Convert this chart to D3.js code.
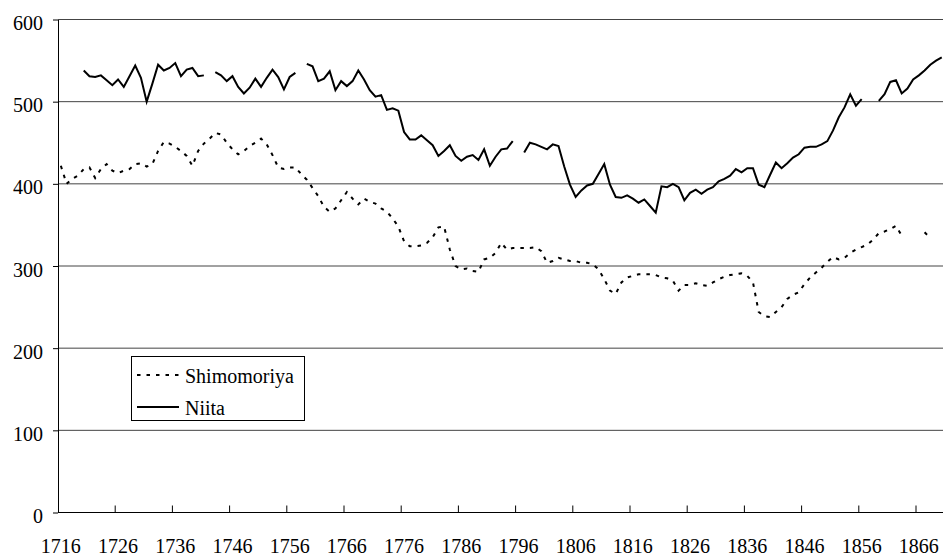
<!DOCTYPE html>
<html>
<head>
<meta charset="utf-8">
<script src="https://cdn.jsdelivr.net/npm/d3@7"></script>
<style>
  body { margin: 0; background: #fff; }
  svg text { font-family: "Liberation Serif", "Times New Roman", serif; fill: #000; }
</style>
</head>
<body>
<div id="viz"></div>
<script>
// years on the category axis, one band per year
const years = d3.range(1716, 1871);
const tickYears = d3.range(1716, 1867, 10);
const yTicks = [0, 100, 200, 300, 400, 500, 600];

// Shimomoriya, 1716-1870 (null = no record)
const shimomoriya = [
  422, 400, 406, 410, 418, 420, 407, 418, 424, 416,   // 1716-1725
  413, 416, 418, 424, 425, 421, 424, 440, 451, 449,   // 1726-1735
  445, 440, 434, 422, 440, 449, 455, 462, 460, 450,   // 1736-1745
  442, 436, 440, 446, 450, 455, 448, 435, 420, 418,   // 1746-1755
  420, 420, 412, 405, 395, 385, 372, 366, 370, 380,   // 1756-1765
  390, 382, 375, 382, 378, 376, 370, 366, 358, 348,   // 1766-1775
  330, 324, 324, 325, 328, 335, 347, 348, 320, 300,   // 1776-1785
  296, 297, 294, 293, 308, 310, 316, 328, 320, 322,   // 1786-1795
  322, 322, 322, 323, 318, 304, 306, 310, 308, 306,   // 1796-1805
  306, 304, 304, 302, 296, 284, 270, 266, 280, 286,   // 1806-1815
  288, 290, 290, 290, 289, 286, 285, 282, 270, 277,   // 1816-1825
  277, 279, 277, 276, 280, 284, 287, 289, 290, 291,   // 1826-1835
  288, 280, 244, 239, 238, 244, 250, 260, 265, 268,   // 1836-1845
  278, 286, 292, 298, 305, 311, 308, 310, 316, 320,   // 1846-1855
  323, 326, 332, 340, 342, 345, 349, 337, null, null, // 1856-1865
  null, 341, 334, null, null                          // 1866-1870
];

// Niita, 1716-1870 (null = no record)
const niita = [
  null, null, null, null, 538, 531, 530, 532, 526, 520,   // 1716-1725
  527, 518, 531, 544, 529, 500, 522, 545, 538, 541,       // 1726-1735
  547, 531, 539, 541, 531, 532, null, 536, 532, 525,      // 1736-1745
  531, 518, 510, 517, 528, 518, 529, 539, 530, 515,       // 1746-1755
  530, 535, null, 546, 543, 525, 528, 537, 514, 525,      // 1756-1765
  519, 525, 538, 527, 514, 506, 508, 490, 492, 489,       // 1766-1775
  463, 454, 454, 459, 453, 447, 434, 440, 447, 434,       // 1776-1785
  428, 433, 435, 429, 442, 422, 433, 442, 443, 452,       // 1786-1795
  null, 438, 450, 448, 445, 442, 448, 446, 421, 399,      // 1796-1805
  384, 392, 398, 400, 412, 424, 399, 384, 383, 386,       // 1806-1815
  382, 377, 381, 373, 365, 397, 396, 400, 396, 380,       // 1816-1825
  389, 393, 388, 393, 396, 403, 406, 410, 418, 414,       // 1826-1835
  419, 419, 399, 396, 411, 426, 419, 425, 432, 436,       // 1836-1845
  444, 445, 445, 448, 452, 465, 481, 493, 509, 495,       // 1846-1855
  503, null, null, 501, 509, 524, 526, 510, 516, 527,     // 1856-1865
  532, 538, 545, 550, 554                                 // 1866-1870
];

const seriesNames = ["Shimomoriya", "Niita"];

const W = 943, H = 557;
const padL = 58, padT = 19.5, axisY = 512.5, step = 5.72;
const FONT = '"Liberation Serif", "Times New Roman", serif';

const svg = d3.select("#viz").append("svg")
  .attr("width", W).attr("height", H);

const x = d3.scaleBand().domain(years).range([padL, padL + years.length * step]).padding(0);
const y = d3.scaleLinear().domain([0, 600]).range([axisY, padT]);
const cx = d => x(d) + x.bandwidth() / 2;

// gridlines
svg.append("g").selectAll("line")
  .data(yTicks.filter(d => d > 0))
  .join("line")
  .attr("x1", padL).attr("x2", W)
  .attr("y1", d => y(d)).attr("y2", d => y(d))
  .attr("stroke", "#444").attr("stroke-width", 1);

// y axis
const yAxis = svg.append("g")
  .attr("transform", `translate(${padL},0)`)
  .call(d3.axisLeft(y).tickValues(yTicks).tickSize(5).tickSizeOuter(0).tickPadding(10));
yAxis.attr("font-family", FONT);
yAxis.select(".domain").attr("stroke", "#000");
yAxis.selectAll(".tick line").attr("stroke", "#000");
yAxis.selectAll("text").attr("font-size", 20).attr("dy", "0.5em");

// x axis line + ticks at category boundaries
svg.append("line")
  .attr("x1", padL).attr("x2", W)
  .attr("y1", axisY).attr("y2", axisY)
  .attr("stroke", "#000");
svg.append("g").selectAll("line")
  .data(tickYears.slice(1))
  .join("line")
  .attr("x1", d => x(d)).attr("x2", d => x(d))
  .attr("y1", axisY).attr("y2", axisY - 7)
  .attr("stroke", "#000");
svg.append("g").selectAll("text")
  .data(tickYears)
  .join("text")
  .attr("x", d => cx(d))
  .attr("y", 553)
  .attr("text-anchor", "middle")
  .attr("font-family", FONT)
  .attr("font-size", 20)
  .text(d => d);

// lines
const line = d3.line()
  .defined(d => d[1] != null)
  .x(d => cx(d[0]))
  .y(d => y(d[1]));

svg.append("path")
  .datum(years.map((yr, i) => [yr, shimomoriya[i]]))
  .attr("d", line)
  .attr("fill", "none")
  .attr("stroke", "#000")
  .attr("stroke-width", 2)
  .attr("stroke-dasharray", "3.5,6");

svg.append("path")
  .datum(years.map((yr, i) => [yr, niita[i]]))
  .attr("d", line)
  .attr("fill", "none")
  .attr("stroke", "#000")
  .attr("stroke-width", 2)
  .attr("stroke-linejoin", "miter");

// legend
const lg = svg.append("g");
lg.append("rect")
  .attr("x", 131.5).attr("y", 356.5)
  .attr("width", 173).attr("height", 64)
  .attr("fill", "#fff").attr("stroke", "#000");
seriesNames.forEach((name, i) => {
  const ly = 375 + i * 32;
  lg.append("line")
    .attr("x1", 137).attr("x2", 179)
    .attr("y1", ly).attr("y2", ly)
    .attr("stroke", "#000").attr("stroke-width", 2)
    .attr("stroke-dasharray", i === 0 ? "3.5,6" : null);
  lg.append("text")
    .attr("x", 185).attr("y", ly + 7.5)
    .attr("font-family", FONT)
    .attr("font-size", 20)
    .text(name);
});
</script>
</body>
</html>
